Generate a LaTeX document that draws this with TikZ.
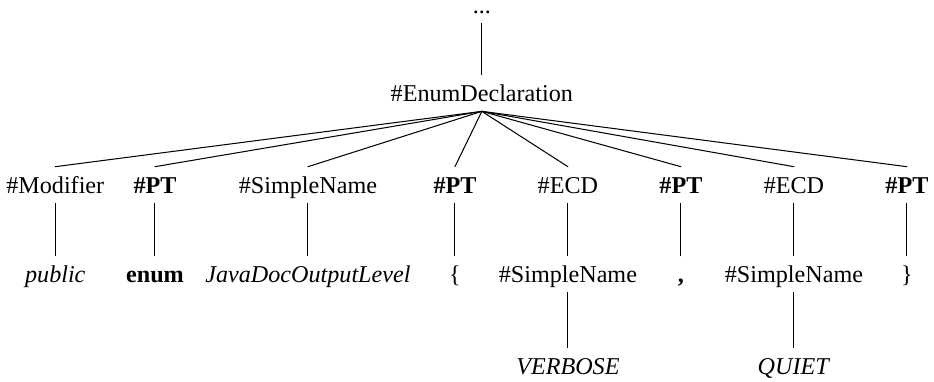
\documentclass[tikz,border=0pt]{standalone}
\usepackage{fontspec}
\setmainfont{Liberation Serif}
\begin{document}
\begin{tikzpicture}[font=\fontsize{11.8}{14}\selectfont, line join=round, line cap=round,
	every node/.style={anchor=base, inner xsep=2pt, inner ysep=2pt, text height=11pt, text depth=2.4pt},
	every path/.style={line width=0.5pt}]
	\useasboundingbox (0,0) rectangle (16.05,-6.55);
	% top
	\node[text height=2pt] (up) at (8.28,-0.24) {...};
	\node (root) at (8.28,-1.75) {\#EnumDeclaration};
	\draw (up.south)--(root.north);
	% children
	\node (mod) at (0.95,-3.33) {\#Modifier};
	\node (pt1) at (2.663,-3.33) {\textbf{\#PT}};
	\node (sn) at (5.292,-3.33) {\#SimpleName};
	\node (pt2) at (7.818,-3.33) {\textbf{\#PT}};
	\node (ecd1) at (9.759,-3.33) {\#ECD};
	\node (pt3) at (11.701,-3.33) {\textbf{\#PT}};
	\node (ecd2) at (13.643,-3.33) {\#ECD};
	\node (pt4) at (15.584,-3.33) {\textbf{\#PT}};
	\foreach \c in {mod,pt1,sn,pt2,ecd1,pt3,ecd2,pt4}
	\draw (root.south)--(\c.north);
	% leaves
	\node (pub) at (0.95,-4.86) {\textit{public}};
	\node (kw) at (2.663,-4.86) {\textbf{enum}};
	\node (name) at (5.292,-4.86) {\textit{JavaDocOutputLevel}};
	\node (lbr) at (7.818,-4.86) {\{};
	\node (sn1) at (9.759,-4.86) {\#SimpleName};
	\node (comma) at (11.701,-4.86) {\textbf{,}};
	\node (sn2) at (13.643,-4.86) {\#SimpleName};
	\node (rbr) at (15.584,-4.86) {\}};
	\draw (mod.south)--(pub.north);
	\draw (pt1.south)--(kw.north);
	\draw (sn.south)--(name.north);
	\draw (pt2.south)--(lbr.north);
	\draw (ecd1.south)--(sn1.north);
	\draw (pt3.south)--(comma.north);
	\draw (ecd2.south)--(sn2.north);
	\draw (pt4.south)--(rbr.north);
	% constants
	\node (verb) at (9.759,-6.44) {\textit{VERBOSE}};
	\node (quiet) at (13.643,-6.44) {\textit{QUIET}};
	\draw (sn1.south)--(verb.north);
	\draw (sn2.south)--(quiet.north);
\end{tikzpicture}
\end{document}
